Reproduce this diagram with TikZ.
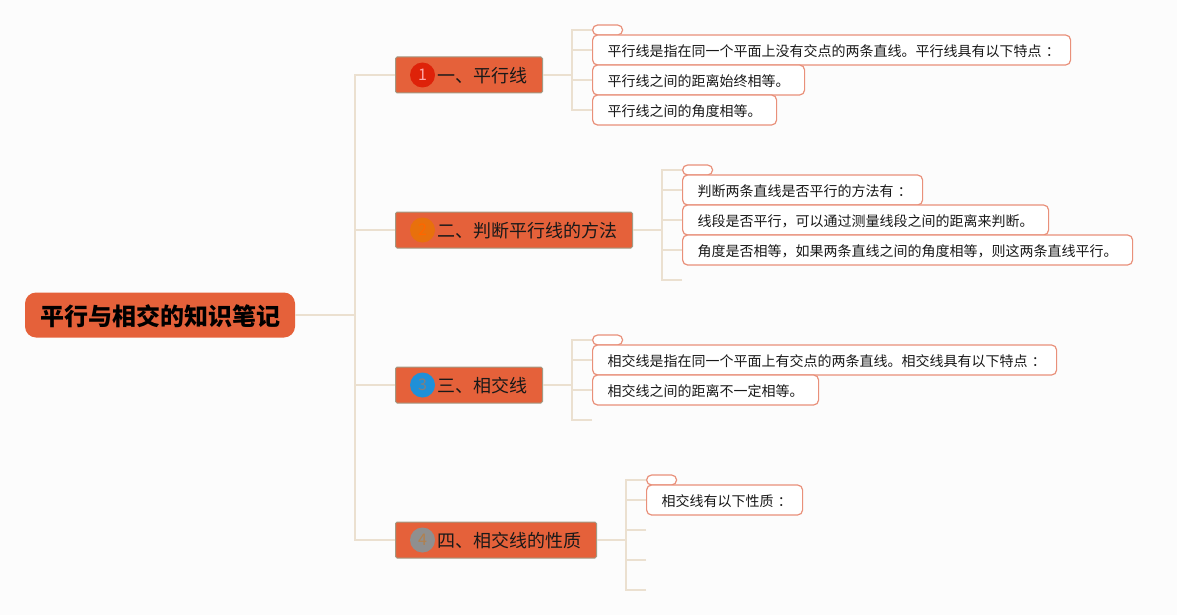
\documentclass[tikz,border=0pt]{standalone}
\usepackage{fontspec}
\usepackage{xcolor}
\usepackage{tikz}
\usetikzlibrary{calc}
\setmainfont{Noto Sans CJK SC}
\definecolor{paper}{HTML}{FCFCFC}
\definecolor{orangered}{HTML}{E5613A}
\definecolor{edgeline}{HTML}{EBE0D0}
\definecolor{topicedge}{HTML}{A39A84}
\definecolor{leafedge}{HTML}{E9907A}
\definecolor{badgered}{HTML}{DE2209}
\definecolor{badgeorange}{HTML}{E8700C}
\definecolor{badgeblue}{HTML}{1F90D8}
\definecolor{badgegray}{HTML}{8F8F8F}
\newcommand{\midcolon}{\makebox[1em][l]{\hspace{0.3em}：}}
\tikzset{
  conn/.style={draw=edgeline, line width=1.5pt},
  rootbox/.style={fill=orangered, rounded corners=11pt, inner xsep=15pt, inner ysep=0pt, minimum height=45pt, text height=21pt, text depth=0.8pt, text=black, font=\fontsize{24}{26}\bfseries},
  topicbox/.style={anchor=west, fill=orangered, draw=topicedge, line width=1pt, rounded corners=1.5pt, inner xsep=15pt, inner ysep=0pt, minimum height=36pt, text height=16pt, text depth=0.3pt, text=black!90, font=\fontsize{18}{20}\selectfont},
  leafbox/.style={anchor=west, fill=white, draw=leafedge, line width=1.2pt, rounded corners=5pt, inner xsep=15pt, inner ysep=0pt, minimum height=30pt, text height=13pt, text depth=0.4pt, text=black!90, font=\fontsize{14}{16}\selectfont},
  emptybox/.style={anchor=west, fill=white, draw=leafedge, line width=1.2pt, rounded corners=5pt, inner sep=0pt, minimum width=30pt, minimum height=10pt},
  badge/.style={circle, inner sep=0pt, minimum size=25pt, font=\fontsize{16}{18}\selectfont}
}

\begin{document}
\begin{tikzpicture}[x=1pt,y=-1pt]
  \fill[paper] (0,0) rectangle (1177,615);
  \useasboundingbox (0,0) rectangle (1177,615);

  % root and the four topics
  \node[rootbox] (root) at (160,315) {平行与相交的知识笔记};
  \node[topicbox] (topicA) at (395,75) {\hspace{27pt}一、平行线};
  \node[topicbox] (topicB) at (395,230) {\hspace{27pt}二、判断平行线的方法};
  \node[topicbox] (topicC) at (395,385) {\hspace{27pt}三、相交线};
  \node[topicbox] (topicD) at (395,540) {\hspace{27pt}四、相交线的性质};

  \node[badge, fill=badgered, text=red!35!white] (badgeA) at ([xshift=27.5pt]topicA.west) {1};
  \node[badge, fill=badgeorange, text=orange!80!red] (badgeB) at ([xshift=27.5pt]topicB.west) {2};
  \node[badge, fill=badgeblue, text=gray] (badgeC) at ([xshift=27.5pt]topicC.west) {3};
  \node[badge, fill=badgegray, text=orange!40!gray] (badgeD) at ([xshift=27.5pt]topicD.west) {4};

  % first group
  \node[emptybox] (emptyA) at (592,30) {};
  \node[leafbox] (leafAa) at (592,50) {平行线是指在同一个平面上没有交点的两条直线。平行线具有以下特点\midcolon};
  \node[leafbox] (leafAb) at (592,80) {平行线之间的距离始终相等。};
  \node[leafbox] (leafAc) at (592,110) {平行线之间的角度相等。};

  % second group
  \node[emptybox] (emptyB) at (682,170) {};
  \node[leafbox] (leafBa) at (682,190) {判断两条直线是否平行的方法有\midcolon};
  \node[leafbox] (leafBb) at (682,220) {线段是否平行，可以通过测量线段之间的距离来判断。};
  \node[leafbox] (leafBc) at (682,250) {角度是否相等，如果两条直线之间的角度相等，则这两条直线平行。};
  \coordinate (freeB) at (682,280);

  % third group
  \node[emptybox] (emptyC) at (592,340) {};
  \node[leafbox] (leafCa) at (592,360) {相交线是指在同一个平面上有交点的两条直线。相交线具有以下特点\midcolon};
  \node[leafbox] (leafCb) at (592,390) {相交线之间的距离不一定相等。};
  \coordinate (freeC) at (592,420);

  % fourth group
  \node[emptybox] (emptyD) at (646,480) {};
  \node[leafbox] (leafDa) at (646,500) {相交线有以下性质\midcolon};
  \coordinate (freeDa) at (646,530);
  \coordinate (freeDb) at (646,560);
  \coordinate (freeDc) at (646,590);

  % junctions
  \coordinate (spine) at (355,315);
  \coordinate (forkA) at (572,75);
  \coordinate (forkB) at (662,230);
  \coordinate (forkC) at (572,385);
  \coordinate (forkD) at (626,540);

  \draw[conn] (root) -- (spine);
  \foreach \t in {topicA,topicB,topicC,topicD}
    \draw[conn] (\t.west) -| (spine);

  \draw[conn] (topicA.east) -- (forkA);
  \foreach \n in {emptyA,leafAa,leafAb,leafAc}
    \draw[conn] (\n.west) -| (forkA);

  \draw[conn] (topicB.east) -- (forkB);
  \foreach \n in {emptyB.west,leafBa.west,leafBb.west,leafBc.west,freeB}
    \draw[conn] (\n) -| (forkB);

  \draw[conn] (topicC.east) -- (forkC);
  \foreach \n in {emptyC.west,leafCa.west,leafCb.west,freeC}
    \draw[conn] (\n) -| (forkC);

  \draw[conn] (topicD.east) -- (forkD);
  \foreach \n in {emptyD.west,leafDa.west,freeDa,freeDb,freeDc}
    \draw[conn] (\n) -| (forkD);
\end{tikzpicture}
\end{document}
